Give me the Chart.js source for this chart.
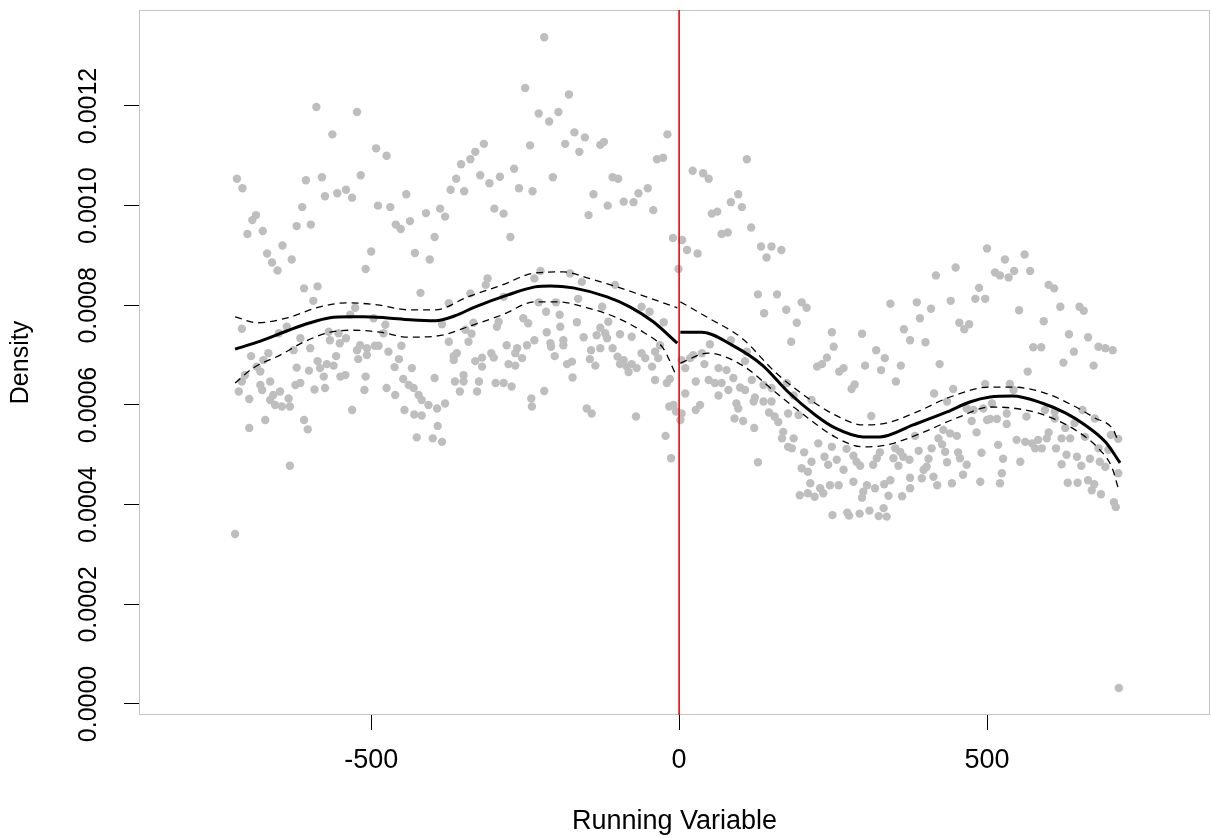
<!DOCTYPE html>
<html>
<head>
<meta charset="utf-8">
<script src="https://cdn.jsdelivr.net/npm/chart.js@4.4.1/dist/chart.umd.min.js"></script>
<style>
html,body{margin:0;padding:0;background:#fff;}
#c{display:block;}
</style>
</head>
<body>
<canvas id="c" width="1211" height="838"></canvas>
<script>
// ---- axis settings ----
const xLimits = [-877, 862];
const yLimits = [-0.0000221, 0.0013926];
const xTickValues = [-500, 0, 500];
const yTickValues = [0, 0.0002, 0.0004, 0.0006, 0.0008, 0.0010, 0.0012];
const xTitle = 'Running Variable';
const yTitle = 'Density';
const cutoff = 0;

// ---- binned density points (x, y) ----
const pointX = [
-589,-523,-563,-492,-718,-709,-606,-580,-517,-575,-555,-541,-531,-489,-612,-687,-693,-621,-598,-701,
-676,-644,-669,-629,-661,-652,-500,-509,-609,-587,-594,-526,-534,-496,-710,-637,-650,-615,-569,-553,
-541,-567,-551,-599,-518,-523,-507,-494,-695,-675,-667,-626,-686,-680,-705,-710,-715,-680,-677,-664,
-621,-601,-587,-583,-572,-561,-557,-521,-507,-577,-550,-542,-509,-623,-615,-592,-575,-511,-698,-659,
-648,-664,-656,-645,-634,-632,-531,-672,-609,-698,-603,-632,-721,
-250,-475,-317,-331,-339,-354,-362,-371,-349,-323,-308,-291,-268,-260,-242,-238,-443,-469,-411,-388,
-380,-437,-460,-452,-300,-285,-397,-274,-429,-405,-420,-311,-314,-339,-285,-374,-235,-477,-480,-385,
-334,-347,-337,-293,-296,-253,-245,-488,-472,-451,-374,-342,-280,-263,-247,-266,-235,-455,-462,-434,
-366,-361,-366,-331,-320,-320,-305,-301,-277,-266,-255,-448,-439,-431,-397,-364,-350,-350,-325,-298,
-285,-272,-475,-461,-356,-328,-423,-418,-407,-393,-380,-240,-239,-446,-430,-418,-392,-426,-400,-385,
-219,-179,-228,-196,-211,-170,-153,-185,-162,-128,-122,-19,-36,-26,-205,-108,-99,-139,-116,-90,
-74,-66,-51,-147,-42,-10,5,13,-1,-225,-177,-158,-104,-228,-200,-164,-125,-61,-48,-216,
-194,-193,-166,-115,-25,-128,-120,-96,-77,-215,-209,-188,-155,-134,-117,-208,-188,-143,-128,-108,
-31,-202,-145,-100,-90,-61,-55,-39,-34,-182,-174,-136,-96,-85,-77,-69,-44,-82,10,-173,
-39,-20,-15,-219,10,-150,-142,-70,-16,-9,-5,4,2,-22,-13,
110,22,39,48,96,84,102,53,62,117,69,79,30,133,150,166,142,128,159,199,
207,138,174,191,182,248,251,240,224,232,84,50,110,23,37,18,4,41,64,77,
107,27,48,58,69,88,99,107,118,137,150,64,80,123,121,137,150,34,27,93,
96,90,104,122,146,155,161,177,194,175,186,215,169,167,177,186,183,203,226,236,
248,215,199,209,242,128,213,229,245,196,209,220,234,249,
500,449,417,487,481,497,441,343,386,409,391,455,471,463,297,365,375,400,320,334,
267,260,302,328,360,423,352,285,280,414,445,497,435,312,467,478,494,500,475,483,
491,489,429,440,451,421,427,383,272,256,283,288,294,326,321,315,351,359,348,364,
374,356,389,405,410,432,453,435,456,467,267,402,397,394,375,413,461,259,283,305,
318,333,343,375,419,443,299,297,340,362,273,276,293,309,324,332,337,
529,561,513,521,535,544,570,600,609,552,619,650,657,592,633,664,575,588,681,692,
704,641,624,673,537,566,543,508,505,516,532,532,564,594,610,610,627,642,655,675,
701,713,548,562,573,583,578,589,597,600,621,635,659,518,612,681,629,646,667,683,
692,697,713,526,554,621,653,524,521,631,647,664,674,670,685,706,709,714
];
const pointY = [
0.001198,0.001188,0.001143,0.001115,0.001054,0.001035,0.001051,0.001057,0.001061,0.001019,0.001025,0.001032,0.001016,0.001000,0.000997,0.000981,0.000971,0.000959,0.000962,0.000943,
0.000949,0.000920,0.000904,0.000892,0.000886,0.000870,0.000908,0.000873,0.000834,0.000838,0.000809,0.000795,0.000781,0.000774,0.000753,0.000757,0.000744,0.000734,0.000747,0.000744,
0.000734,0.000730,0.000724,0.000714,0.000720,0.000710,0.000714,0.000719,0.000698,0.000690,0.000704,0.000710,0.000677,0.000667,0.000660,0.000647,0.000627,0.000640,0.000630,0.000647,
0.000675,0.000669,0.000688,0.000674,0.000682,0.000679,0.000698,0.000692,0.000700,0.000657,0.000657,0.000660,0.000657,0.000640,0.000644,0.000631,0.000634,0.000630,0.000612,0.000620,
0.000627,0.000610,0.000600,0.000597,0.000613,0.000597,0.000590,0.000570,0.000570,0.000554,0.000551,0.000478,0.000341,
0.001236,0.001100,0.001124,0.001108,0.001093,0.001083,0.001054,0.001032,0.001029,0.001061,0.001045,0.001058,0.001074,0.001035,0.001121,0.001029,0.001023,0.000997,0.000985,0.000994,
0.000978,0.000969,0.000962,0.000953,0.000994,0.000984,0.000937,0.000937,0.000905,0.000892,0.000825,0.000854,0.000841,0.000824,0.000817,0.000804,0.000854,0.000761,0.000744,0.000762,
0.000765,0.000751,0.000743,0.000767,0.000757,0.000774,0.000764,0.000719,0.000707,0.000719,0.000727,0.000727,0.000720,0.000714,0.000720,0.000704,0.000730,0.000692,0.000676,0.000674,
0.000698,0.000704,0.000690,0.000688,0.000695,0.000677,0.000704,0.000695,0.000682,0.000679,0.000694,0.000652,0.000640,0.000634,0.000654,0.000647,0.000660,0.000647,0.000647,0.000644,
0.000644,0.000637,0.000634,0.000620,0.000627,0.000627,0.000620,0.000610,0.000600,0.000593,0.000603,0.000613,0.000597,0.000590,0.000581,0.000579,0.000558,0.000535,0.000533,0.000526,
0.001338,0.001223,0.001185,0.001188,0.001169,0.001147,0.001137,0.001124,0.001108,0.001122,0.001128,0.001143,0.001093,0.001096,0.001057,0.001057,0.001054,0.001023,0.001000,0.001008,
0.001007,0.001025,0.001035,0.000981,0.000991,0.000935,0.000931,0.000911,0.000873,0.000869,0.000864,0.000847,0.000841,0.000806,0.000806,0.000813,0.000797,0.000797,0.000787,0.000787,
0.000781,0.000757,0.000766,0.000767,0.000766,0.000755,0.000744,0.000742,0.000737,0.000746,0.000724,0.000730,0.000736,0.000740,0.000734,0.000717,0.000720,0.000710,0.000714,0.000714,
0.000720,0.000698,0.000692,0.000697,0.000690,0.000704,0.000694,0.000707,0.000694,0.000682,0.000687,0.000679,0.000682,0.000677,0.000682,0.000674,0.000677,0.000666,0.000674,0.000655,
0.000650,0.000644,0.000652,0.000628,0.000623,0.000593,0.000583,0.000577,0.000597,0.000600,0.000587,0.000583,0.000570,0.000538,0.000493,
0.001093,0.001070,0.001065,0.001054,0.001023,0.001007,0.000997,0.000984,0.000988,0.000956,0.000943,0.000946,0.000904,0.000918,0.000918,0.000911,0.000896,0.000822,0.000822,0.000806,
0.000795,0.000784,0.000791,0.000765,0.000727,0.000746,0.000717,0.000695,0.000677,0.000682,0.000730,0.000722,0.000707,0.000700,0.000704,0.000694,0.000690,0.000682,0.000674,0.000670,
0.000688,0.000647,0.000650,0.000644,0.000644,0.000654,0.000635,0.000630,0.000650,0.000640,0.000634,0.000619,0.000630,0.000615,0.000607,0.000607,0.000607,0.000600,0.000590,0.000603,
0.000593,0.000573,0.000568,0.000554,0.000585,0.000577,0.000566,0.000583,0.000580,0.000644,0.000619,0.000610,0.000546,0.000533,0.000516,0.000533,0.000513,0.000505,0.000523,0.000496,
0.000516,0.000486,0.000473,0.000466,0.000480,0.000485,0.000443,0.000433,0.000439,0.000419,0.000423,0.000416,0.000423,0.000379,
0.000914,0.000876,0.000860,0.000835,0.000813,0.000813,0.000809,0.000803,0.000806,0.000793,0.000774,0.000765,0.000762,0.000752,0.000743,0.000752,0.000730,0.000726,0.000710,0.000694,
0.000674,0.000667,0.000679,0.000670,0.000679,0.000682,0.000647,0.000641,0.000632,0.000623,0.000632,0.000642,0.000607,0.000578,0.000593,0.000590,0.000593,0.000570,0.000568,0.000545,
0.000504,0.000446,0.000550,0.000543,0.000538,0.000533,0.000521,0.000538,0.000512,0.000490,0.000498,0.000486,0.000478,0.000505,0.000493,0.000480,0.000513,0.000506,0.000493,0.000496,
0.000490,0.000478,0.000508,0.000492,0.000513,0.000506,0.000505,0.000485,0.000493,0.000480,0.000470,0.000476,0.000470,0.000453,0.000454,0.000456,0.000460,0.000439,0.000446,0.000439,
0.000433,0.000441,0.000449,0.000433,0.000439,0.000443,0.000426,0.000414,0.000418,0.000417,0.000384,0.000378,0.000382,0.000388,0.000377,0.000393,0.000376,
0.000892,0.000902,0.000866,0.000860,0.000856,0.000869,0.000869,0.000841,0.000834,0.000790,0.000797,0.000797,0.000789,0.000768,0.000742,0.000736,0.000716,0.000716,0.000717,0.000714,
0.000710,0.000707,0.000685,0.000679,0.000642,0.000667,0.000630,0.000603,0.000572,0.000572,0.000583,0.000562,0.000577,0.000590,0.000587,0.000573,0.000554,0.000564,0.000590,0.000573,
0.000540,0.000532,0.000530,0.000526,0.000523,0.000530,0.000513,0.000513,0.000533,0.000545,0.000533,0.000533,0.000536,0.000520,0.000513,0.000513,0.000500,0.000496,0.000492,0.000486,
0.000476,0.000510,0.000463,0.000492,0.000486,0.000481,0.000478,0.000463,0.000443,0.000444,0.000444,0.000449,0.000441,0.000429,0.000421,0.000405,0.000395,0.000032
];

// ---- fitted density and confidence bands, left of cutoff ----
const leftFitX = [-721,-685,-636,-599,-567,-534,-513,-477,-437,-396,-364,-331,-278,-234,-209,-172,-117,-80,-42,-3];
const leftFitY = [0.000712,0.000726,0.000749,0.000765,0.000775,0.000777,0.000777,0.000775,0.000771,0.000769,0.000779,0.000797,0.000821,0.000837,0.000839,0.000835,0.000817,0.000797,0.000767,0.000724];
const leftHiX = [-721,-685,-636,-583,-539,-490,-440,-396,-343,-287,-234,-188,-149,-101,-58,-26,-3];
const leftHiY = [0.000777,0.000765,0.000775,0.000797,0.000805,0.000801,0.000791,0.000791,0.000817,0.000841,0.000865,0.000867,0.000855,0.000837,0.000819,0.000805,0.000795];
const leftLoX = [-721,-692,-648,-610,-567,-529,-485,-440,-385,-343,-287,-234,-198,-149,-101,-58,-26,-5];
const leftLoY = [0.000644,0.000674,0.000700,0.000726,0.000746,0.000750,0.000746,0.000736,0.000740,0.000757,0.000781,0.000807,0.000807,0.000795,0.000775,0.000746,0.000714,0.000660];

// ---- fitted density and confidence bands, right of cutoff ----
const rightFitX = [2,37,86,135,177,221,253,299,326,380,435,472,505,541,589,627,659,692,716];
const rightFitY = [0.000746,0.000746,0.000720,0.000680,0.000626,0.000580,0.000554,0.000536,0.000536,0.000560,0.000586,0.000606,0.000616,0.000618,0.000604,0.000584,0.000560,0.000526,0.000484];
const rightHiX = [2,47,102,156,209,253,299,338,386,440,505,541,594,638,675,705,713];
const rightHiY = [0.000807,0.000775,0.000734,0.000666,0.000614,0.000580,0.000560,0.000564,0.000586,0.000616,0.000636,0.000636,0.000624,0.000600,0.000574,0.000550,0.000526];
const rightLoX = [2,47,102,156,209,253,299,338,386,451,505,562,605,648,680,703,713];
const rightLoY = [0.000684,0.000704,0.000680,0.000626,0.000574,0.000536,0.000516,0.000520,0.000540,0.000574,0.000596,0.000590,0.000574,0.000546,0.000514,0.000474,0.000433];

// ---- build chart ----
const zip = (xs, ys) => xs.map((x, i) => ({x: x, y: ys[i]}));
const FONT = "'Liberation Sans', Arial, Helvetica, sans-serif";

function curve(xs, ys, dashed) {
  return {
    data: zip(xs, ys),
    showLine: true,
    borderColor: '#000000',
    borderWidth: dashed ? 1.3 : 3,
    borderDash: dashed ? [7, 5] : [],
    pointRadius: 0,
    pointHoverRadius: 0,
    cubicInterpolationMode: 'monotone',
    fill: false,
    order: dashed ? 2 : 1
  };
}

const boxPlugin = {
  id: 'plotBox',
  beforeDatasetsDraw(chart) {
    const {ctx, chartArea: a} = chart;
    ctx.save();
    ctx.strokeStyle = '#c4c4c4';
    ctx.lineWidth = 1;
    ctx.strokeRect(a.left + 0.5, a.top + 0.5, a.right - a.left - 1, a.bottom - a.top - 1);
    ctx.restore();
  }
};

new Chart(document.getElementById('c'), {
  type: 'scatter',
  data: {
    datasets: [
      {
        data: [{x: cutoff, y: yLimits[0]}, {x: cutoff, y: yLimits[1]}],
        showLine: true,
        borderColor: '#ff0000',
        borderWidth: 1.6,
        pointRadius: 0,
        pointHoverRadius: 0,
        order: 0
      },
      curve(leftFitX, leftFitY, false),
      curve(leftHiX, leftHiY, true),
      curve(leftLoX, leftLoY, true),
      curve(rightFitX, rightFitY, false),
      curve(rightHiX, rightHiY, true),
      curve(rightLoX, rightLoY, true),
      {
        data: zip(pointX, pointY),
        pointRadius: 4.2,
        pointHoverRadius: 4.2,
        pointBackgroundColor: '#bebebe',
        pointBorderWidth: 0,
        borderWidth: 0,
        showLine: false,
        order: 3
      }
    ]
  },
  options: {
    responsive: false,
    animation: false,
    devicePixelRatio: 1,
    events: [],
    layout: { padding: {top: 10, right: 1, bottom: 0, left: 0}, autoPadding: false },
    plugins: { legend: {display: false}, tooltip: {enabled: false} },
    scales: {
      x: {
        type: 'linear',
        min: xLimits[0],
        max: xLimits[1],
        afterBuildTicks: s => { s.ticks = xTickValues.map(v => ({value: v})); },
        afterFit: s => { s.height = 123; s.paddingLeft = 0; s.paddingRight = 0; s.paddingTop = 0; s.paddingBottom = 0; },
        grid: { display: true, drawOnChartArea: false, drawTicks: true, tickLength: 15, color: '#000000', lineWidth: 1 },
        border: { display: false },
        ticks: {
          autoSkip: false,
          maxRotation: 0,
          minRotation: 0,
          padding: 14,
          color: '#000000',
          font: { family: FONT, size: 27 },
          callback: v => String(v)
        },
        title: {
          display: true,
          text: xTitle,
          color: '#000000',
          font: { family: FONT, size: 27, lineHeight: 1.2 },
          padding: {top: 0, bottom: 0}
        }
      },
      y: {
        type: 'linear',
        min: yLimits[0],
        max: yLimits[1],
        afterBuildTicks: s => { s.ticks = yTickValues.map(v => ({value: v})); },
        afterFit: s => { s.width = 139; s.paddingLeft = 0; s.paddingRight = 0; s.paddingTop = 0; s.paddingBottom = 0; },
        grid: { display: true, drawOnChartArea: false, drawTicks: true, tickLength: 15, color: '#000000', lineWidth: 1 },
        border: { display: false },
        ticks: {
          autoSkip: false,
          minRotation: 90,
          maxRotation: 90,
          crossAlign: 'center',
          padding: -3,
          color: '#000000',
          font: { family: FONT, size: 25 },
          callback: v => Number(v).toFixed(4)
        },
        title: {
          display: true,
          text: yTitle,
          color: '#000000',
          font: { family: FONT, size: 25, lineHeight: 1.2 },
          padding: {top: 6, bottom: 0}
        }
      }
    }
  },
  plugins: [boxPlugin]
});
</script>
</body>
</html>
